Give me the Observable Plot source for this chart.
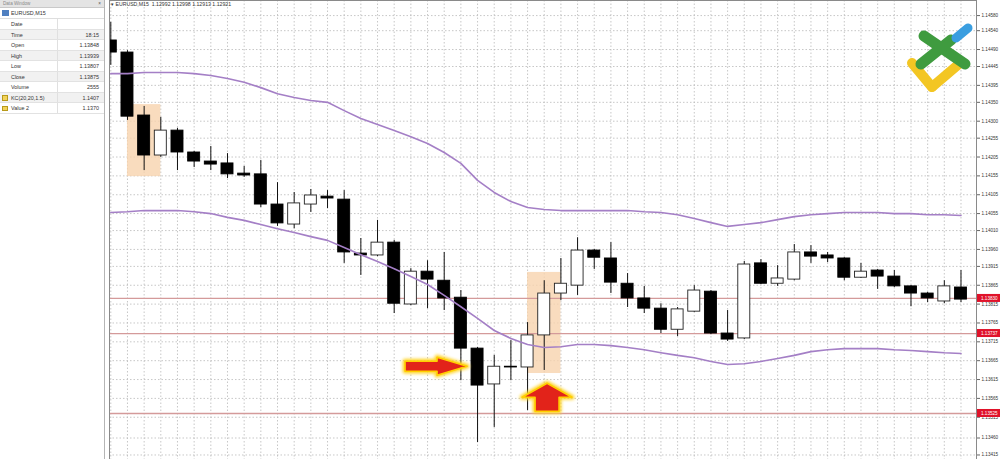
<!DOCTYPE html>
<html><head><meta charset="utf-8">
<script src="https://cdn.jsdelivr.net/npm/d3@7"></script>
<script src="https://cdn.jsdelivr.net/npm/@observablehq/plot@0.6"></script>
<style>
html,body{margin:0;padding:0;background:#fff;}
body{width:1000px;height:459px;overflow:hidden;font-family:"Liberation Sans",Arial,sans-serif;}
#wrap{position:relative;width:1000px;height:459px;}
#chart{position:absolute;left:0;top:0;}
#title{position:absolute;left:111px;top:1px;font-size:5.2px;color:#333;white-space:pre;}
#dw{position:absolute;left:0;top:0;width:104px;height:459px;background:#fff;border-right:1px solid #b5b5b5;font-size:5.4px;color:#333;}
#dw .hdr{height:7px;line-height:7px;background:#e4e4e4;border-bottom:1px solid #c9c9c9;position:relative;overflow:hidden;}
#dw .hdr span{position:absolute;left:3px;top:0;color:#8a8a8a;font-size:4.6px;}
#dw .hdr b{position:absolute;right:3px;top:0;font-weight:normal;color:#555;font-size:4.6px;}
#dw .sym{height:10px;line-height:10px;position:relative;padding-left:11px;border-bottom:1px solid #dedede;}
#dw .sym i{position:absolute;left:2px;top:2px;width:7px;height:6px;background:#4f7fc0;}
#dw .row{height:10.5px;line-height:10.5px;position:relative;border-bottom:1px solid #e2e2e2;box-sizing:border-box;}
#dw .row.alt{background:#f1f1f1;}
#dw .row .l{position:absolute;left:11px;}
#dw .row .v{position:absolute;right:5px;}
#dw .row .div{position:absolute;left:57px;top:0;bottom:0;border-left:1px solid #e0e0e0;}
#dw .row i{position:absolute;left:2px;top:2.5px;width:6px;height:5.5px;background:#f2d35a;border:0.5px solid #b89a1a;box-sizing:border-box;}
#logo{position:absolute;left:900px;top:18px;}
</style></head>
<body><div id="wrap">
<div id="chart"></div>
<div id="title">▾ EURUSD,M15  1.12992 1.12998 1.12913 1.12921</div>
<div id="dw"></div>
<svg id="logo" width="80" height="85" viewBox="900 18 80 85">
  <line x1="912" y1="63" x2="932" y2="87" stroke="#f3c623" stroke-width="10" stroke-linecap="round"/>
  <line x1="932" y1="87" x2="959" y2="64" stroke="#f3c623" stroke-width="10" stroke-linecap="round"/>
  <line x1="924" y1="36" x2="965" y2="64" stroke="#3f9b3f" stroke-width="11" stroke-linecap="round"/>
  <line x1="921" y1="64" x2="951" y2="40" stroke="#3f9b3f" stroke-width="11" stroke-linecap="round"/>
  <line x1="956" y1="38" x2="968" y2="28" stroke="#3a9ee0" stroke-width="9" stroke-linecap="round"/>
</svg>
</div>
<script>
// ---- data (EURUSD M15 candles) ----
const open  = [1.14514,1.14482,1.14315,1.14209,1.14275,1.14217,1.14193,1.14188,1.14161,1.14159,
               1.14079,1.14026,1.14079,1.14100,1.14092,1.13949,1.13944,1.13978,1.13814,1.13901,
               1.13877,1.13832,1.13697,1.13602,1.13649,1.13647,1.13732,1.13843,1.13864,1.13957,
               1.13936,1.13869,1.13830,1.13803,1.13747,1.13795,1.13848,1.13737,1.13724,1.13923,
               1.13869,1.13880,1.13952,1.13944,1.13936,1.13885,1.13904,1.13888,1.13862,1.13843,
               1.13822,1.13859];
const high  = [1.14562,1.14487,1.14339,1.14310,1.14281,1.14220,1.14233,1.14214,1.14180,1.14196,
               1.14137,1.14111,1.14119,1.14116,1.14116,1.13989,1.14037,1.13984,1.13909,1.13930,
               1.13952,1.13851,1.13700,1.13679,1.13718,1.13766,1.13877,1.13936,1.13991,1.13960,
               1.13978,1.13896,1.13862,1.13816,1.13806,1.13864,1.13851,1.13798,1.13928,1.13933,
               1.13917,1.13973,1.13970,1.13952,1.13938,1.13923,1.13907,1.13904,1.13864,1.13846,
               1.13877,1.13904];
const low   = [1.14448,1.14302,1.14169,1.14204,1.14169,1.14177,1.14169,1.14148,1.14151,1.14071,
               1.14021,1.14015,1.14058,1.14068,1.13923,1.13891,1.13941,1.13790,1.13811,1.13803,
               1.13798,1.13612,1.13448,1.13488,1.13612,1.13533,1.13639,1.13824,1.13838,1.13907,
               1.13843,1.13806,1.13790,1.13737,1.13729,1.13793,1.13734,1.13716,1.13721,1.13867,
               1.13862,1.13877,1.13923,1.13925,1.13877,1.13883,1.13854,1.13859,1.13808,1.13819,
               1.13816,1.13819];
const close = [1.14482,1.14312,1.14209,1.14275,1.14217,1.14193,1.14185,1.14159,1.14156,1.14079,
               1.14029,1.14082,1.14103,1.14095,1.13952,1.13944,1.13978,1.13816,1.13901,1.13880,
               1.13830,1.13697,1.13599,1.13649,1.13647,1.13732,1.13843,1.13869,1.13957,1.13938,
               1.13872,1.13830,1.13803,1.13747,1.13801,1.13851,1.13737,1.13721,1.13920,1.13869,
               1.13883,1.13952,1.13941,1.13936,1.13885,1.13901,1.13888,1.13862,1.13843,1.13830,
               1.13862,1.13827];
// Keltner channel KC(20,20,1.5): upper line and "Value 2" lower line
const kcUpper = [1.14426,1.14426,1.14429,1.14429,1.14429,1.14426,1.14421,1.14413,1.14403,1.14389,
                 1.14373,1.14363,1.14355,1.14350,1.14328,1.14307,1.14291,1.14275,1.14259,1.14241,
                 1.14217,1.14188,1.14143,1.14111,1.14087,1.14071,1.14066,1.14063,1.14063,1.14063,
                 1.14063,1.14063,1.14060,1.14058,1.14052,1.14042,1.14031,1.14021,1.14026,1.14031,
                 1.14039,1.14047,1.14052,1.14055,1.14058,1.14058,1.14058,1.14055,1.14055,1.14052,
                 1.14052,1.14050];
const kcLower = [1.14058,1.14060,1.14063,1.14063,1.14063,1.14060,1.14055,1.14045,1.14037,1.14026,
                 1.14015,1.14005,1.13994,1.13984,1.13965,1.13946,1.13928,1.13909,1.13888,1.13867,
                 1.13838,1.13808,1.13777,1.13745,1.13724,1.13708,1.13700,1.13702,1.13708,1.13708,
                 1.13705,1.13700,1.13694,1.13686,1.13679,1.13673,1.13663,1.13655,1.13657,1.13663,
                 1.13671,1.13679,1.13689,1.13694,1.13697,1.13697,1.13697,1.13694,1.13692,1.13689,
                 1.13686,1.13684];
// horizontal support / resistance levels
const levels = [1.13830, 1.13737, 1.13525];
// price axis tick labels
const priceTicks = [1.14580,1.14540,1.14490,1.14445,1.14395,1.14350,1.14300,1.14255,1.14205,1.14155,
                    1.14105,1.14055,1.14010,1.13960,1.13915,1.13865,1.13815,1.13765,1.13715,1.13665,
                    1.13615,1.13565,1.13515,1.13460,1.13415];
// highlighted zones (candle index span, price span)
const zoneStart = [1, 25];
const zoneEnd = [3, 27];
const zoneTop = [1.14344, 1.13899];
const zoneBottom = [1.14153, 1.13631];
// arrow annotations (tip at candle index / price)
const arrowIndex = [21.4, 26.2];
const arrowPrice = [1.13649, 1.13604];
const arrowDir = ["right", "up"];
// data window
const dwLabels = ["Date","Time","Open","High","Low","Close","Volume","KC(20,20,1.5)","Value 2"];
const dwValues = ["","18:15","1.13848","1.13939","1.13807","1.13875","2555","1.1407","1.1370"];

// ---- build ----
const idx = open.map((_, i) => i);
const candles = idx.map(i => ({i, o: open[i], h: high[i], l: low[i], c: close[i]}));
const up = candles.filter(d => d.c >= d.o);
const down = candles.filter(d => d.c < d.o);
const zones = zoneStart.map((s, j) => ({s, e: zoneEnd[j], t: zoneTop[j], b: zoneBottom[j]}));
const bw = 0.36;

const chart = Plot.plot({
  width: 1000, height: 459,
  marginLeft: 109, marginRight: 24, marginTop: 0, marginBottom: 0,
  x: {type: "linear", domain: [-0.078, 51.93], axis: null},
  y: {domain: [1.13403, 1.14620], axis: null},
  style: {background: "transparent", fontFamily: "Liberation Sans, Arial, sans-serif", color: "#333"},
  marks: [
    Plot.gridX(idx, {stroke: "#b9b9b9", strokeOpacity: 1, strokeDasharray: "1.5,2", strokeWidth: 0.8}),
    Plot.gridY(priceTicks, {stroke: "#b9b9b9", strokeOpacity: 1, strokeDasharray: "1.5,2", strokeWidth: 0.8}),
    Plot.rect(zones, {x1: "s", x2: "e", y1: "b", y2: "t", fill: "#f7d3ae", fillOpacity: 0.8}),
    Plot.ruleY(levels, {stroke: "#d49a9a", strokeWidth: 1.3}),
    Plot.ruleX(candles, {x: "i", y1: "l", y2: "h", stroke: "#111", strokeWidth: 1, clip: true}),
    Plot.rect(up, {x1: d => d.i - bw, x2: d => d.i + bw, y1: "o", y2: "c", fill: "#fff", stroke: "#222", strokeWidth: 0.9, clip: true}),
    Plot.rect(down, {x1: d => d.i - bw, x2: d => d.i + bw, y1: "o", y2: "c", fill: "#000", stroke: "#000", strokeWidth: 0.9, clip: true}),
    Plot.line(idx, {x: i => i, y: i => kcUpper[i], stroke: "#a47fc6", strokeWidth: 1.6, clip: true}),
    Plot.line(idx, {x: i => i, y: i => kcLower[i], stroke: "#a47fc6", strokeWidth: 1.6, clip: true}),
    Plot.axisY(priceTicks, {anchor: "right", tickSize: 3, tickPadding: 2, fontSize: 4.6, tickFormat: d3.format(".5f"), stroke: "#666"}),
    Plot.frame({stroke: "#8a8a8a"})
  ]
});
document.getElementById("chart").appendChild(chart);

const sx = chart.scale("x"), sy = chart.scale("y");
const svg = d3.select(chart);
const defs = svg.append("defs");
const f = defs.append("filter").attr("id", "glow").attr("x", "-50%").attr("y", "-50%").attr("width", "200%").attr("height", "200%");
f.append("feGaussianBlur").attr("stdDeviation", 1.6);

// price labels for levels
const lg = svg.append("g").attr("text-anchor", "start");
levels.forEach(v => {
  const y = sy.apply(v);
  lg.append("rect").attr("x", 977).attr("y", y - 4).attr("width", 23).attr("height", 8).attr("fill", "#e0122a");
  lg.append("text").attr("x", 981).attr("y", y).attr("dy", "0.35em").attr("font-size", 4.6)
    .attr("text-anchor", "start").attr("fill", "#fff").text(d3.format(".5f")(v));
});

// arrows
const shapes = {
  right: "M0,0 L-30,-9 L-30,-5 L-62,-5 L-62,5 L-30,5 L-30,9 Z",
  up: "M0,0 L25,14 L12,14 L12,28 L-12,28 L-12,14 L-25,14 Z"
};
const ag = svg.append("g");
arrowIndex.forEach((k, j) => {
  const x = sx.apply(k), y = sy.apply(arrowPrice[j]);
  const g = ag.append("g").attr("transform", `translate(${x},${y})`);
  g.append("path").attr("d", shapes[arrowDir[j]]).attr("fill", "#ffd21a").attr("stroke", "#ffd21a")
    .attr("stroke-width", 5).attr("stroke-linejoin", "round").attr("filter", "url(#glow)").attr("opacity", 0.9);
  g.append("path").attr("d", shapes[arrowDir[j]]).attr("fill", "#e2231a").attr("stroke", "#ffcf00")
    .attr("stroke-width", 1.6).attr("stroke-linejoin", "round");
});

// data window
const dw = d3.select("#dw");
dw.append("div").attr("class", "hdr").html('<span>Data Window</span><b>×</b>');
dw.append("div").attr("class", "sym").html('<i></i>EURUSD,M15');
dwLabels.forEach((l, j) => {
  const r = dw.append("div").attr("class", "row" + (j % 2 === 1 ? " alt" : ""));
  if (j >= 7) r.append("i");
  r.append("span").attr("class", "l").text(l);
  r.append("span").attr("class", "div");
  r.append("span").attr("class", "v").text(dwValues[j]);
});
</script>
</body></html>
